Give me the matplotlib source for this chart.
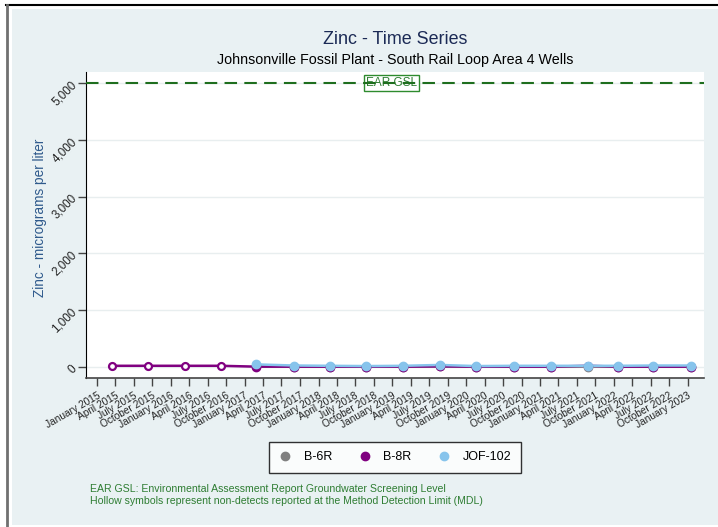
import matplotlib
matplotlib.use("Agg")
import matplotlib.pyplot as plt
from matplotlib.lines import Line2D
from matplotlib.patches import Rectangle
from matplotlib.ticker import FuncFormatter
import pandas as pd

plt.rcParams["font.family"] = ["Liberation Sans", "DejaVu Sans"]

# ---- data (micrograms per liter) ----
b6r_dates = ["2017-02-25", "2017-09-01", "2018-02-25", "2018-08-25", "2019-02-25",
             "2019-08-25", "2020-02-20", "2020-08-25", "2021-02-25", "2021-08-25",
             "2022-01-20", "2022-07-15", "2023-01-15"]
b6r_values = [8, 6, 6, 6, 6, 8, 6, 6, 6, 6, 6, 6, 6]
b6r_nd = [False] * 13

b8r_dates = ["2015-03-15", "2015-09-10", "2016-03-10", "2016-09-05", "2017-02-25",
             "2017-09-01", "2018-02-25", "2018-08-25", "2019-02-25", "2019-08-25",
             "2020-02-20", "2020-08-25", "2021-02-25", "2021-08-25", "2022-01-20",
             "2022-07-15", "2023-01-15"]
b8r_values = [20, 20, 20, 20, 5, 5, 5, 5, 5, 10, 5, 5, 5, 20, 5, 5, 5]
b8r_nd = [True, True, True, True, False, False, False, False, False, False,
          False, False, False, True, False, False, False]

jof_dates = ["2017-02-25", "2017-09-01", "2018-02-25", "2018-08-25", "2019-02-25",
             "2019-08-25", "2020-02-20", "2020-08-25", "2021-02-25", "2021-08-25",
             "2022-01-20", "2022-07-15", "2023-01-15"]
jof_values = [45, 25, 20, 15, 20, 35, 15, 20, 20, 20, 20, 25, 25]
jof_nd = [False] * 13

gsl_value = 5000
gsl_label = "EAR GSL"

series = [
    ("B-6R", b6r_dates, b6r_values, b6r_nd, "#808080"),
    ("B-8R", b8r_dates, b8r_values, b8r_nd, "#800080"),
    ("JOF-102", jof_dates, jof_values, jof_nd, "#87C4EC"),
]

tick_dates = pd.date_range("2015-01-01", "2023-01-01", freq="QS")
tick_labels = [d.strftime("%B %Y") for d in tick_dates]

title = "Zinc - Time Series"
subtitle = "Johnsonville Fossil Plant - South Rail Loop Area 4 Wells"
ylabel = "Zinc - micrograms per liter"
notes = ["EAR GSL: Environmental Assessment Report Groundwater Screening Level",
         "Hollow symbols represent non-detects reported at the Method Detection Limit (MDL)"]

# ---- figure ----
W, H = 718, 527
fig = plt.figure(figsize=(W / 100, H / 100), dpi=100, facecolor="white")

# outer panel and frame lines
fig.patches.append(Rectangle((12 / W, 1 - 525 / H), (W - 12) / W, (525 - 9) / H,
                             transform=fig.transFigure, facecolor="#E9F1F3",
                             edgecolor="none", zorder=-5))
fig.add_artist(Line2D([6 / W, 1], [1 - 4.5 / H] * 2, color="black", lw=1.5,
                      transform=fig.transFigure))
fig.add_artist(Line2D([6.5 / W] * 2, [0, 1 - 4.5 / H], color="#707070", lw=2,
                      transform=fig.transFigure))

ax = fig.add_axes([86 / W, 1 - 378 / H, (704 - 86) / W, (378 - 72) / H])
ax.set_facecolor("white")
ax.set_zorder(1)

for name, dates, vals, nd, color in series:
    d = pd.to_datetime(dates)
    ax.plot(d, vals, color=color, lw=1.8, zorder=2)
    for x, y, hollow in zip(d, vals, nd):
        if hollow:
            ax.plot([x], [y], marker="o", ms=5, mfc="white", mec=color, mew=1.6,
                    zorder=3, ls="none")
        else:
            ax.plot([x], [y], marker="o", ms=6, mfc=color, mec=color, zorder=3,
                    ls="none")

ax.axhline(gsl_value, color="#1E6E1E", lw=1.5, dashes=(6, 3.5), zorder=4)
ax.text(pd.Timestamp("2018-12-28"), gsl_value, gsl_label, ha="center", va="center",
        fontsize=8.5, color="#2E7D32", zorder=3,
        bbox=dict(boxstyle="square,pad=0.2", facecolor="white",
                  edgecolor="#2E8B2E", lw=1))

ax.set_xlim(pd.Timestamp("2014-11-08"), pd.Timestamp("2023-03-22"))
ax.set_ylim(-195, 5195)
ax.set_xticks(tick_dates)
ax.set_xticklabels(tick_labels, rotation=30, ha="right", rotation_mode="anchor",
                   fontsize=7.3, color="#222222")
ax.set_yticks(range(0, 5001, 1000))
ax.yaxis.set_major_formatter(FuncFormatter(lambda v, p: f"{int(v):,}"))
for lab in ax.get_yticklabels():
    lab.set_rotation(45)
    lab.set_rotation_mode("anchor")
    lab.set_ha("right")
    lab.set_va("center")
    lab.set_fontsize(8.4)
    lab.set_color("#222222")
ax.tick_params(axis="x", length=6, width=1, color="#444444", pad=3)
ax.tick_params(axis="y", length=6, width=1, color="#444444", pad=2)
ax.grid(axis="y", color="#E8EEEF", lw=1, zorder=0)
ax.set_axisbelow(True)
for s in ["top", "right"]:
    ax.spines[s].set_visible(False)
ax.spines["left"].set_color("black")
ax.spines["bottom"].set_color("#444444")
ax.spines["bottom"].set_linewidth(1.2)

ax.set_ylabel(ylabel, fontsize=9.8, color="#2F5A8C")
ax.yaxis.set_label_coords((47 - 86) / (704 - 86), (378 - 218) / (378 - 72))

fig.text(395 / W, 1 - 39 / H, title, ha="center", va="center", fontsize=12.9,
         color="#1B2A55")
fig.text(395 / W, 1 - 60 / H, subtitle, ha="center", va="center", fontsize=10.3,
         color="black")

handles = [Line2D([], [], marker="o", ls="none", ms=6, mfc=c, mec=c)
           for _, _, _, _, c in series]
leg = fig.legend(handles, [s[0] for s in series], loc="center",
                 bbox_to_anchor=(395 / W, 1 - 457.5 / H), ncol=3, frameon=True,
                 fancybox=False, edgecolor="black", fontsize=9, handlelength=1,
                 handletextpad=1.0, columnspacing=2.1, borderpad=0.75)
leg.get_frame().set_linewidth(1)

for i, line in enumerate(notes):
    fig.text(90 / W, 1 - (489 + 12 * i) / H, line, ha="left", va="center",
             fontsize=7.6, color="#2E7D32")

fig.savefig("out.png", dpi=100, facecolor="white")
